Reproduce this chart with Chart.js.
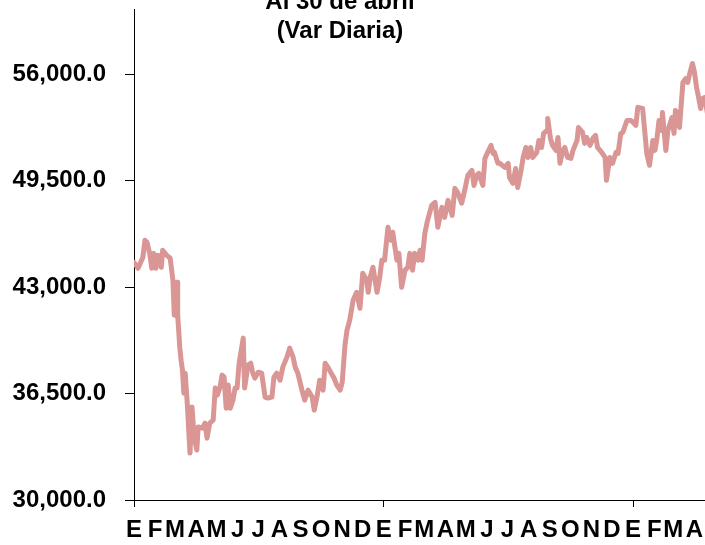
<!DOCTYPE html>
<html lang="es">
<head>
<meta charset="utf-8">
<script src="https://cdn.jsdelivr.net/npm/chart.js@4.4.1/dist/chart.umd.min.js"></script>
<style>
  html, body { margin: 0; padding: 0; background: #fff; overflow: hidden; }
  #wrap { position: relative; width: 705px; height: 545px; overflow: hidden; }
  #grafica { position: absolute; left: 0; top: 0; }
  #titulo {
    position: absolute; left: 0; top: -14px; width: 680px;
    text-align: center; color: #000;
    font: bold 24px/29px "Liberation Sans", Arial, sans-serif;
  }
</style>
</head>
<body>
<div id="wrap">
  <canvas id="grafica" width="715" height="545"></canvas>
  <div id="titulo">Al 30 de abril<br>(Var Diaria)</div>
</div>
<script>
// dias contados desde el 1 de enero de 2020
const etiquetasMes = ['E', 'F', 'M', 'A', 'M', 'J', 'J', 'A', 'S', 'O', 'N', 'D'];
const ticksY = [30000, 36500, 43000, 49500, 56000];

const dias = [
  0, 6, 13, 16, 19, 23, 26, 29, 32, 35, 40, 42, 48, 53, 57, 59, 63, 64, 67, 69,
  71, 73, 75, 78, 82, 85, 88, 92, 94, 100, 104, 107, 111, 116, 119, 122, 126, 129, 132, 135,
  138, 141, 145, 148, 151, 154, 160, 162, 167, 171, 174, 177, 182, 187, 192, 196, 202, 205, 209, 214,
  218, 224, 228, 233, 236, 240, 246, 250, 255, 261, 264, 268, 272, 277, 280, 284,
  288, 293, 297, 302, 305, 309, 312, 316, 321, 326, 331, 335, 341, 343, 346, 350, 356, 360, 363, 367,
  372, 376, 379, 385, 388, 392, 397, 401, 404, 408, 411, 416, 419, 422, 426, 430, 436, 441, 445, 451,
  455, 460, 466, 470, 474, 480, 485, 489, 495, 498, 502, 505, 511, 514, 518, 523, 526, 528, 533,
  536, 543, 548, 550, 555, 559, 562, 567, 570, 574, 577, 581, 584, 590, 593, 597, 600, 605, 606, 610,
  613, 618, 621, 624, 628, 631, 635, 640, 643, 649, 651, 657, 660, 663, 668, 672, 676, 679, 685, 690,
  692, 697, 701, 706, 709, 713, 716, 722, 728, 731, 735, 738, 745, 748, 751, 755, 760, 763, 766, 769,
  773, 774, 779, 782, 788, 791, 793, 796, 799, 804, 808, 811, 814, 818, 821, 824, 827, 830, 833, 836,
  840, 843, 846, 849
];

const valores = [
  44520, 44160, 44830, 45870, 45750, 45070, 44160, 45070, 44160, 44950, 44220, 45260, 44950, 44770, 43430, 41290, 43300, 41290, 39340, 38540,
  37930, 36530, 37750, 35920, 32870, 35680, 33840, 33050, 34460, 34390, 34700, 33780, 34700, 34880, 36840, 36410, 36900, 37630, 37510, 35610,
  37020, 35610, 36100, 36840, 36840, 38360, 39890, 36840, 38240, 38360, 37750, 37450, 37810, 37750, 36290, 36230, 36290, 37510, 37750, 37320,
  38120, 38730, 39280, 38730, 38120, 37750, 36710, 36100, 36710, 36290, 35490, 36290, 37320, 36710, 38360, 38120,
  37810, 37450, 37020, 36710, 37200, 39460, 40380, 40990, 42210, 42690, 41720, 43850, 43430, 42690, 43610, 44220, 42690, 43610, 44650, 44650,
  46660, 45870, 46360, 44650, 45070, 43000, 44040, 44220, 45070, 44040, 45070, 44650, 45260, 44650, 46300, 47090, 48000, 48190, 46660, 47880,
  47270, 48310, 47390, 49040, 48800, 48130, 49040, 49840, 50140, 49220, 49840, 49960, 49220, 50870, 51240, 51670, 51180, 51240, 50570,
  50570, 50320, 50570, 49710, 49350, 50260, 49100, 50140, 50930, 51540, 50930, 51540, 50930, 51240, 51970, 51540, 52400, 52580, 53310, 52090,
  51670, 51360, 52150, 50570, 51360, 51540, 50930, 50870, 51360, 51970, 52760, 52460, 51790, 52150, 51670, 52090, 52280, 51540, 51240, 50930,
  49530, 50930, 50570, 51240, 51180, 52400, 52460, 53190, 53190, 53070, 52890, 53990, 53920, 52580, 51180, 50450, 51970, 51360, 52090, 53190,
  52580, 53680, 51360, 52580, 53370, 52400, 53800, 53620, 52760, 55510, 55750, 55510, 56060, 56670, 56120, 55210, 54600, 53920, 54530, 54600,
  53600, 52700, 51900, 51420
];

const DIA = 86400000;
const origen = Date.UTC(2020, 0, 1);
const inicioMes = [];
for (let i = 0; i < 28; i++) {
  inicioMes.push((Date.UTC(2020, i, 1) - origen) / DIA);
}
const fin = (Date.UTC(2020, 28, 1) - origen) / DIA;
const inicioAnio = inicioMes.filter((d, i) => i % 12 === 0);

const fuente = { family: '"Liberation Sans", Arial, sans-serif', size: 24, weight: 'bold' };

new Chart(document.getElementById('grafica'), {
  type: 'line',
  data: {
    datasets: [{
      data: dias.map((d, i) => ({ x: d, y: valores[i] })),
      borderColor: '#D99694',
      borderWidth: 5,
      borderJoinStyle: 'round',
      borderCapStyle: 'round',
      pointRadius: 0,
      tension: 0
    }]
  },
  options: {
    responsive: false,
    animation: false,
    layout: { padding: { top: 9, left: 0, right: 0, bottom: 0 } },
    plugins: {
      legend: { display: false },
      tooltip: { enabled: false }
    },
    scales: {
      x: {
        type: 'linear',
        min: 0,
        max: fin,
        afterBuildTicks: s => { s.ticks = inicioMes.map(v => ({ value: v })); },
        afterFit: s => { s.height = 45; s.paddingLeft = 0; s.paddingRight = 0; },
        grid: {
          drawOnChartArea: false,
          tickLength: 7,
          color: c => (c.tick && inicioAnio.includes(c.tick.value)) ? '#000' : 'rgba(0,0,0,0)'
        },
        border: { display: true, color: '#000', width: 1 },
        ticks: {
          autoSkip: false,
          maxRotation: 0,
          minRotation: 0,
          padding: 9,
          color: '#000',
          font: fuente,
          callback: (v, i) => etiquetasMes[i % 12]
        }
      },
      y: {
        min: 30000,
        max: 60000,
        afterBuildTicks: s => { s.ticks = ticksY.map(v => ({ value: v })); },
        afterFit: s => { s.width = 134; s.paddingTop = 0; s.paddingBottom = 0; },
        grid: { drawOnChartArea: false, tickLength: 9, color: '#000' },
        border: { display: true, color: '#000', width: 1 },
        ticks: {
          padding: 19,
          color: '#000',
          font: fuente,
          callback: v => v.toLocaleString('en-US', { minimumFractionDigits: 1, maximumFractionDigits: 1 })
        }
      }
    }
  }
});
</script>
</body>
</html>
